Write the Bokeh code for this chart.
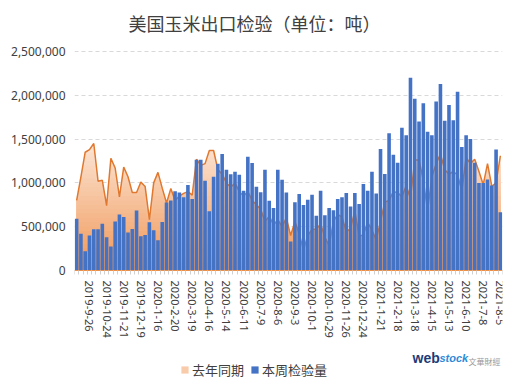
import numpy as np
from bokeh.plotting import figure
from bokeh.models import (Range1d, FixedTicker, NumeralTickFormatter, Label, Legend,
                          LegendItem)
from bokeh.embed import file_html
from bokeh.resources import INLINE

# ---------------- data (tons) ----------------
tick_labels = ["2019-9-26", "2019-10-24", "2019-11-21", "2019-12-19", "2020-1-16",
               "2020-2-20", "2020-3-19", "2020-4-16", "2020-5-14", "2020-6-11",
               "2020-7-9", "2020-8-6", "2020-9-3", "2020-10-1", "2020-10-29",
               "2020-11-26", "2020-12-24", "2021-1-21", "2021-2-18", "2021-3-18",
               "2021-4-15", "2021-5-13", "2021-6-10", "2021-7-8", "2021-8-5"]
first_label_index = 3
label_step = 4

this_week = [
    590000, 420000, 220000, 400000, 470000, 470000, 535000, 380000, 273000, 560000,
    640000, 610000, 435000, 475000, 685000, 390000, 405000, 550000, 460000, 345000,
    555000, 775000, 800000, 905000, 890000, 835000, 976000, 816000, 1264000, 1264000,
    1025000, 675000, 1070000, 1218000, 1329000, 1150000, 1100000, 1127000, 1093000, 911000,
    1298000, 1226000, 957000, 893000, 1150000, 797000, 714000, 1150000, 1036000, 889000,
    330000, 778000, 873000, 748000, 808000, 865000, 626000, 911000, 632000, 714000,
    688000, 816000, 835000, 885000, 732000, 885000, 760000, 987000, 911000, 1127000,
    880000, 1386000, 1101000, 1568000, 1320000, 1230000, 1630000, 1545000, 2200000, 1960000,
    1700000, 1910000, 1585000, 1545000, 1930000, 2130000, 1710000, 1890000, 1715000, 2040000,
    1410000, 1545000, 1500000, 1230000, 1000000, 1000000, 1040000, 970000, 1380000, 665000,
]

last_year = [
    800000, 1070000, 1350000, 1380000, 1450000, 1020000, 1030000, 740000, 1280000, 1170000,
    840000, 1180000, 1070000, 890000, 890000, 1010000, 960000, 580000, 1000000, 1120000,
    940000, 770000, 935000, 800000, 850000, 880000, 900000, 860000, 1270000, 1200000,
    1220000, 1370000, 1370000, 1150000, 1100000, 1000000, 950000, 1000000, 900000, 850000,
    900000, 800000, 750000, 700000, 560000, 620000, 520000, 580000, 500000, 600000,
    400000, 560000, 420000, 230000, 400000, 470000, 470000, 530000, 380000, 280000,
    560000, 640000, 610000, 440000, 480000, 680000, 390000, 410000, 550000, 460000,
    350000, 560000, 780000, 800000, 900000, 890000, 840000, 970000, 820000, 1260000,
    1260000, 1030000, 680000, 1070000, 1220000, 1330000, 1150000, 1100000, 1130000, 1090000,
    910000, 1290000, 1220000, 1270000, 1130000, 980000, 1220000, 960000, 1000000, 1310000,
]

y_ticks = [0, 500000, 1000000, 1500000, 2000000, 2500000]
y_max = 2500000

# ---------------- layout (pixels) ----------------
chart_h = 219      # height of the 0..y_max band
top_pad = 49       # room above y_max (title)
bottom_pad = 116   # room below 0 (tick labels, legend, logo)
frame_w = 428
frame_h = top_pad + chart_h + bottom_pad
y_end = y_max + top_pad * y_max / chart_h
y_start = -bottom_pad * y_max / chart_h

n = len(this_week)
idx = np.arange(n)
ly = np.array(last_year, dtype=float)

FONT_CJK = "Noto Sans CJK SC"
TXT = "#404040"

p = figure(title=None, frame_width=frame_w, frame_height=frame_h,
           min_border_left=74, min_border_right=10, min_border_top=2, min_border_bottom=2,
           x_range=Range1d(-0.5, n - 0.5), y_range=Range1d(y_start, y_end),
           output_backend="svg", toolbar_location=None)
p.outline_line_color = None
p.background_fill_color = "white"
p.border_fill_color = "white"

# gradient area (draw full area first, then lower bands over it)
nb = 30
top = 1500000.0
c_bot = np.array([240, 150, 85])
c_top = np.array([252, 232, 218])
area_renderers = []
for i in range(nb - 1, -1, -1):
    hi = top * (i + 1) / nb
    t = (i + 0.5) / nb
    c = c_bot + (c_top - c_bot) * t
    col = "#%02x%02x%02x" % tuple(int(round(v)) for v in c)
    y2 = ly if i == nb - 1 else np.minimum(ly, hi)
    area_renderers.append(p.varea(x=idx, y1=np.zeros(n), y2=y2, fill_color=col, fill_alpha=1))

p.line(idx, ly, line_color="#E0782F", line_width=1.5)

bars = p.vbar(x=idx, top=this_week, width=0.84, fill_color="#4472C4", line_color=None)

# grid
p.xgrid.visible = False
p.ygrid.ticker = FixedTicker(ticks=y_ticks)
p.ygrid.grid_line_color = "#d9d9d9"
p.ygrid.grid_line_dash = "4 3"
p.ygrid.grid_line_width = 1

# x axis, drawn at value 0
label_pos = [first_label_index + label_step * i for i in range(len(tick_labels))]
xa = p.xaxis[0]
xa.fixed_location = 0
xa.ticker = FixedTicker(ticks=label_pos, minor_ticks=[i - 0.5 for i in range(n + 1)])
xa.major_label_overrides = {pos: lab for pos, lab in zip(label_pos, tick_labels)}
xa.major_label_orientation = "vertical"
xa.major_tick_out = 0
xa.major_tick_in = 0
xa.minor_tick_out = 4
xa.minor_tick_in = 0
xa.minor_tick_line_color = "#d0d0d0"
xa.axis_line_color = "#E9914A"
xa.major_label_standoff = 6
xa.major_label_text_font = "Noto Sans"
xa.major_label_text_font_size = "11px"
xa.major_label_text_color = TXT

# y axis
p.yaxis.ticker = FixedTicker(ticks=y_ticks)
p.yaxis.formatter = NumeralTickFormatter(format="0,0")
p.yaxis.axis_line_color = None
p.yaxis.major_tick_line_color = None
p.yaxis.minor_tick_line_color = None
p.yaxis.major_tick_out = 0
p.yaxis.major_label_standoff = 9
p.yaxis.major_label_text_font = "Noto Sans"
p.yaxis.major_label_text_font_size = "12px"
p.yaxis.major_label_text_color = TXT

# title (screen units from frame bottom-left)
p.add_layout(Label(x=180, y=frame_h - 20, x_units="screen", y_units="screen",
                   text="美国玉米出口检验（单位：吨）", text_font=FONT_CJK,
                   text_font_size="18px", text_color=TXT,
                   text_align="center", text_baseline="middle"))

# legend
legend = Legend(items=[LegendItem(label="去年同期", renderers=[area_renderers[10]]),
                       LegendItem(label="本周检验量", renderers=[bars])],
                location=(106, 7), orientation="horizontal",
                glyph_width=9, glyph_height=9, label_standoff=3, spacing=6,
                padding=0, margin=0, border_line_color=None, background_fill_alpha=0,
                label_text_font=FONT_CJK, label_text_font_size="13px",
                label_text_color=TXT, label_height=20)
p.add_layout(legend)

# logo text
p.add_layout(Label(x=338, y=29, x_units="screen", y_units="screen", text="web",
                   text_font="Liberation Sans", text_font_style="bold", text_font_size="14px",
                   text_color="#1d3b78", text_baseline="middle"))
p.add_layout(Label(x=365, y=29, x_units="screen", y_units="screen", text="stock",
                   text_font="Liberation Sans", text_font_style="bold italic",
                   text_font_size="11px", text_color="#2b8ad8", text_baseline="middle"))
p.add_layout(Label(x=394, y=25, x_units="screen", y_units="screen", text="文華財經",
                   text_font=FONT_CJK, text_font_size="8px", text_color="#9a9a9a",
                   text_baseline="middle"))

open("out.html", "w").write(file_html(p, INLINE))
